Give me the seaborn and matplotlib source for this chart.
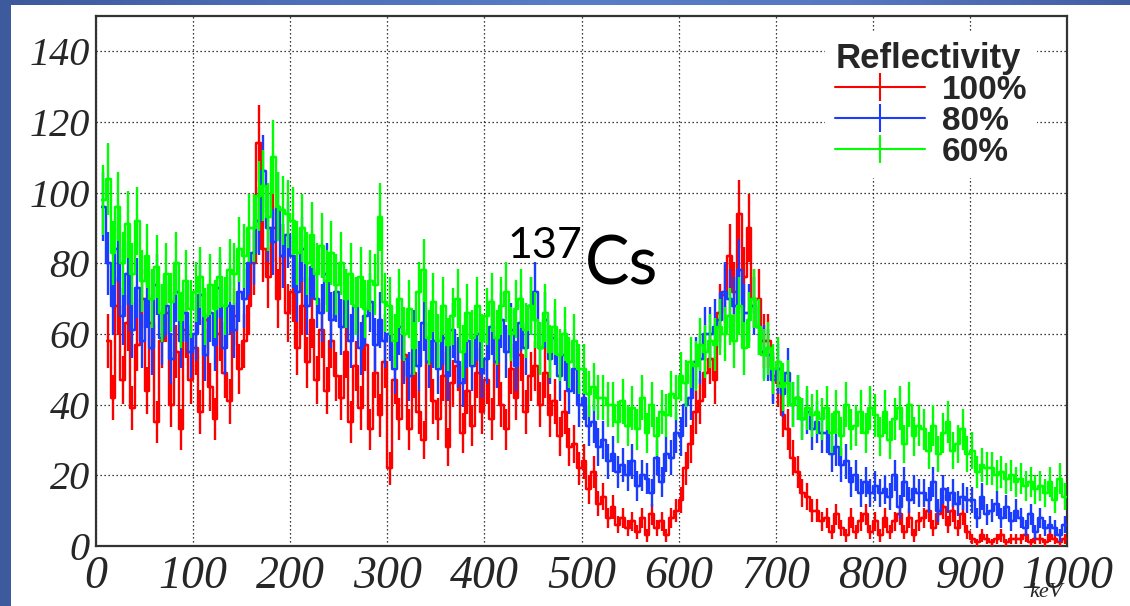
import numpy as np
import pandas as pd
import matplotlib
matplotlib.use("Agg")
import matplotlib.pyplot as plt
from matplotlib.lines import Line2D
from matplotlib.patches import Rectangle
import seaborn as sns

# Energy histogram: 5 keV bins from 0 to 1000 keV
bin_width = 5
x_range = (0, 1000)
y_range = (0, 150)

refl_100 = [
    0, 0, 58, 42, 68, 47, 63, 39, 57, 70,
    44, 63, 35, 58, 66, 40, 55, 33, 61, 47,
    56, 38, 64, 45, 36, 60, 49, 41, 65, 50,
    58, 68, 80, 114, 84, 76, 90, 70, 82, 66,
    72, 56, 68, 52, 64, 47, 61, 44, 58, 48,
    42, 55, 35, 51, 39, 57, 33, 49, 37, 52,
    22, 47, 36, 54, 33, 49, 38, 30, 52, 41,
    36, 48, 28, 46, 51, 32, 44, 34, 49, 38,
    47, 36, 52, 40, 33, 50, 42, 54, 38, 48,
    51, 40, 49, 37, 41, 31, 38, 28, 29, 22,
    24, 16, 21, 12, 14, 8, 11, 6, 8, 5,
    7, 4, 8, 3, 9, 5, 7, 3, 8, 10,
    13, 22, 29, 38, 41, 49, 53, 47, 66, 71,
    82, 72, 94, 76, 90, 70, 70, 58, 58, 48,
    46, 37, 33, 25, 21, 15, 14, 10, 10, 7,
    8, 4, 9, 5, 3, 8, 4, 7, 9, 4,
    7, 3, 8, 4, 7, 9, 4, 8, 3, 7,
    8, 10, 5, 9, 11, 6, 10, 5, 9, 4,
    2, 1, 3, 2, 1, 2, 3, 1, 2, 2,
    2, 3, 1, 2, 2, 1, 3, 2, 1, 2,
]

refl_80 = [
    0, 96, 80, 68, 84, 65, 77, 61, 73, 58,
    70, 56, 74, 59, 68, 53, 72, 58, 66, 55,
    60, 71, 54, 66, 57, 73, 56, 68, 61, 72,
    70, 80, 83, 92, 106, 90, 86, 96, 82, 88,
    82, 72, 84, 68, 79, 70, 66, 77, 64, 72,
    62, 70, 58, 68, 56, 65, 69, 57, 64, 58,
    60, 50, 62, 53, 48, 59, 51, 63, 52, 58,
    50, 59, 48, 61, 52, 46, 58, 51, 60, 49,
    53, 62, 52, 64, 55, 61, 51, 63, 56, 68,
    72, 56, 64, 53, 59, 48, 54, 44, 50, 40,
    42, 34, 35, 28, 30, 24, 26, 21, 23, 20,
    24, 17, 20, 19, 15, 25, 18, 26, 25, 32,
    31, 40, 42, 52, 53, 60, 60, 62, 64, 72,
    70, 68, 78, 66, 66, 68, 62, 55, 54, 47,
    50, 43, 49, 40, 42, 36, 38, 33, 35, 32,
    32, 26, 28, 23, 24, 18, 20, 15, 18, 15,
    17, 15, 16, 14, 20, 11, 18, 13, 16, 15,
    15, 13, 18, 10, 16, 13, 15, 12, 14, 13,
    13, 8, 14, 9, 10, 12, 8, 11, 7, 10,
    8, 5, 9, 4, 8, 5, 6, 5, 3, 6,
]

refl_60 = [
    0, 98, 104, 83, 96, 80, 91, 77, 92, 75,
    82, 70, 79, 66, 77, 69, 80, 64, 75, 67,
    72, 76, 65, 74, 67, 76, 68, 78, 77, 84,
    82, 90, 90, 99, 102, 93, 110, 96, 95, 94,
    92, 83, 90, 80, 88, 77, 85, 75, 83, 74,
    80, 70, 77, 68, 76, 67, 75, 74, 93, 69,
    68, 58, 70, 60, 67, 56, 72, 78, 59, 69,
    58, 68, 57, 65, 70, 55, 66, 59, 68, 58,
    65, 69, 59, 68, 72, 60, 67, 70, 61, 68,
    64, 56, 66, 55, 62, 54, 60, 52, 58, 50,
    50, 43, 45, 42, 42, 40, 40, 35, 41, 34,
    39, 33, 42, 32, 40, 31, 38, 37, 43, 42,
    48, 46, 52, 51, 57, 55, 58, 57, 62, 60,
    65, 58, 68, 56, 64, 70, 62, 54, 56, 50,
    52, 45, 46, 40, 42, 36, 39, 37, 38, 36,
    39, 32, 38, 31, 40, 33, 34, 38, 32, 39,
    37, 31, 38, 30, 36, 39, 29, 40, 31, 34,
    33, 27, 34, 26, 32, 35, 27, 29, 33, 26,
    27, 21, 23, 22, 22, 20, 21, 19, 20, 18,
    19, 17, 18, 16, 17, 15, 18, 13, 19, 14,
]

series_labels = ["100%", "80%", "60%"]
series_values = [refl_100, refl_80, refl_60]
series_colors = ["#ff0000", "#1a3cff", "#00ff00"]

x_ticks = [0, 100, 200, 300, 400, 500, 600, 700, 800, 900, 1000]
y_ticks = [0, 20, 40, 60, 80, 100, 120, 140]

W, H = 1130, 606
SERIF = ["Liberation Serif", "DejaVu Serif"]

sns.set_theme(style="white")
plt.rcParams["font.family"] = SERIF

fig = plt.figure(figsize=(W / 100, H / 100), dpi=100, facecolor="white")

# slide background: blue strip on the left and a gradient band along the top
fig.patches.append(Rectangle((0, 0), 11 / W, 1, transform=fig.transFigure,
                             facecolor="#3d5a9c", edgecolor="none", zorder=0))
band = fig.add_axes([0, 1 - 5 / H, 1, 5 / H])
band.axis("off")
grad = np.array([[0.24, 0.35, 0.61], [0.30, 0.43, 0.72], [0.35, 0.49, 0.78],
                 [0.34, 0.47, 0.76], [0.26, 0.37, 0.64]])
xs = np.linspace(0, 1, 256)
img = np.stack([np.interp(xs, np.linspace(0, 1, len(grad)), grad[:, k]) for k in range(3)], axis=-1)
band.imshow(img[None, :, :], aspect="auto", extent=(0, 1, 0, 1))

ax = fig.add_axes([96 / W, 60 / H, 971 / W, 530 / H])
ax.set_facecolor("white")

centers = np.arange(x_range[0], x_range[1], bin_width) + bin_width / 2

for vals, lab, col in zip(series_values, series_labels, series_colors):
    df = pd.DataFrame({"keV": centers, "counts": np.asarray(vals, dtype=float)})
    df = df[df["counts"] > 0]
    sns.lineplot(data=df, x="keV", y="counts", drawstyle="steps-mid", color=col,
                 lw=1.7, ax=ax, estimator=None, sort=False, legend=False, zorder=3)
    ax.errorbar(df["keV"], df["counts"], yerr=np.sqrt(df["counts"]), xerr=bin_width / 2,
                fmt="none", ecolor=col, elinewidth=1.7, capsize=0, zorder=3)

ax.set_xlim(*x_range)
ax.set_ylim(*y_range)
ax.set_xticks(x_ticks)
ax.set_yticks(y_ticks)
ax.set_xlabel("")
ax.set_ylabel("")
ax.grid(True, color="black", lw=0.9, ls=(0, (1, 2.2)))
ax.set_axisbelow(True)

ax.tick_params(axis="y", direction="in", length=21.5, width=1.6, color="#222222", pad=4.5)
ax.tick_params(axis="x", direction="in", length=11.5, width=1.6, color="#222222", pad=7)
ax.set_yticklabels([str(v) for v in y_ticks], fontsize=29, style="italic", family=SERIF)
ax.set_xticklabels([str(v) for v in x_ticks], fontsize=33, style="italic", family=SERIF)

for s in ax.spines.values():
    s.set_visible(True)
    s.set_color("#333333")
    s.set_linewidth(1.6)

fig.text(1063 / W, 1 - 597 / H, "keV", ha="right", va="baseline", fontsize=16,
         style="italic", family=SERIF)

# isotope annotation
SANS = ["Lato", "Liberation Sans"]
ax.text(424, 81.5, "137", fontsize=31, va="baseline", ha="left",
        family=SANS, color="black", zorder=5)
ax.text(503, 74, "Cs", fontsize=48, va="baseline", ha="left",
        family=SANS, color="black", zorder=5)

handles = [Line2D([0], [0], color=c, lw=1.5, marker="|", markersize=20,
                  markeredgewidth=1.5) for c in series_colors]
leg = ax.legend(handles, series_labels, title="Reflectivity", loc="upper right",
                bbox_to_anchor=((1054 - 96) / 971, (546 - 15) / 530),
                prop={"family": "Liberation Sans", "weight": "bold", "size": 24},
                title_fontproperties={"family": "Liberation Sans", "weight": "bold", "size": 25},
                frameon=True, fancybox=False, framealpha=1, facecolor="white",
                edgecolor="none", handlelength=2.7, handletextpad=0.5,
                labelspacing=0.0, borderpad=0.3, alignment="left")
leg.set_zorder(10)

fig.savefig("out.png", dpi=100, facecolor="white")
